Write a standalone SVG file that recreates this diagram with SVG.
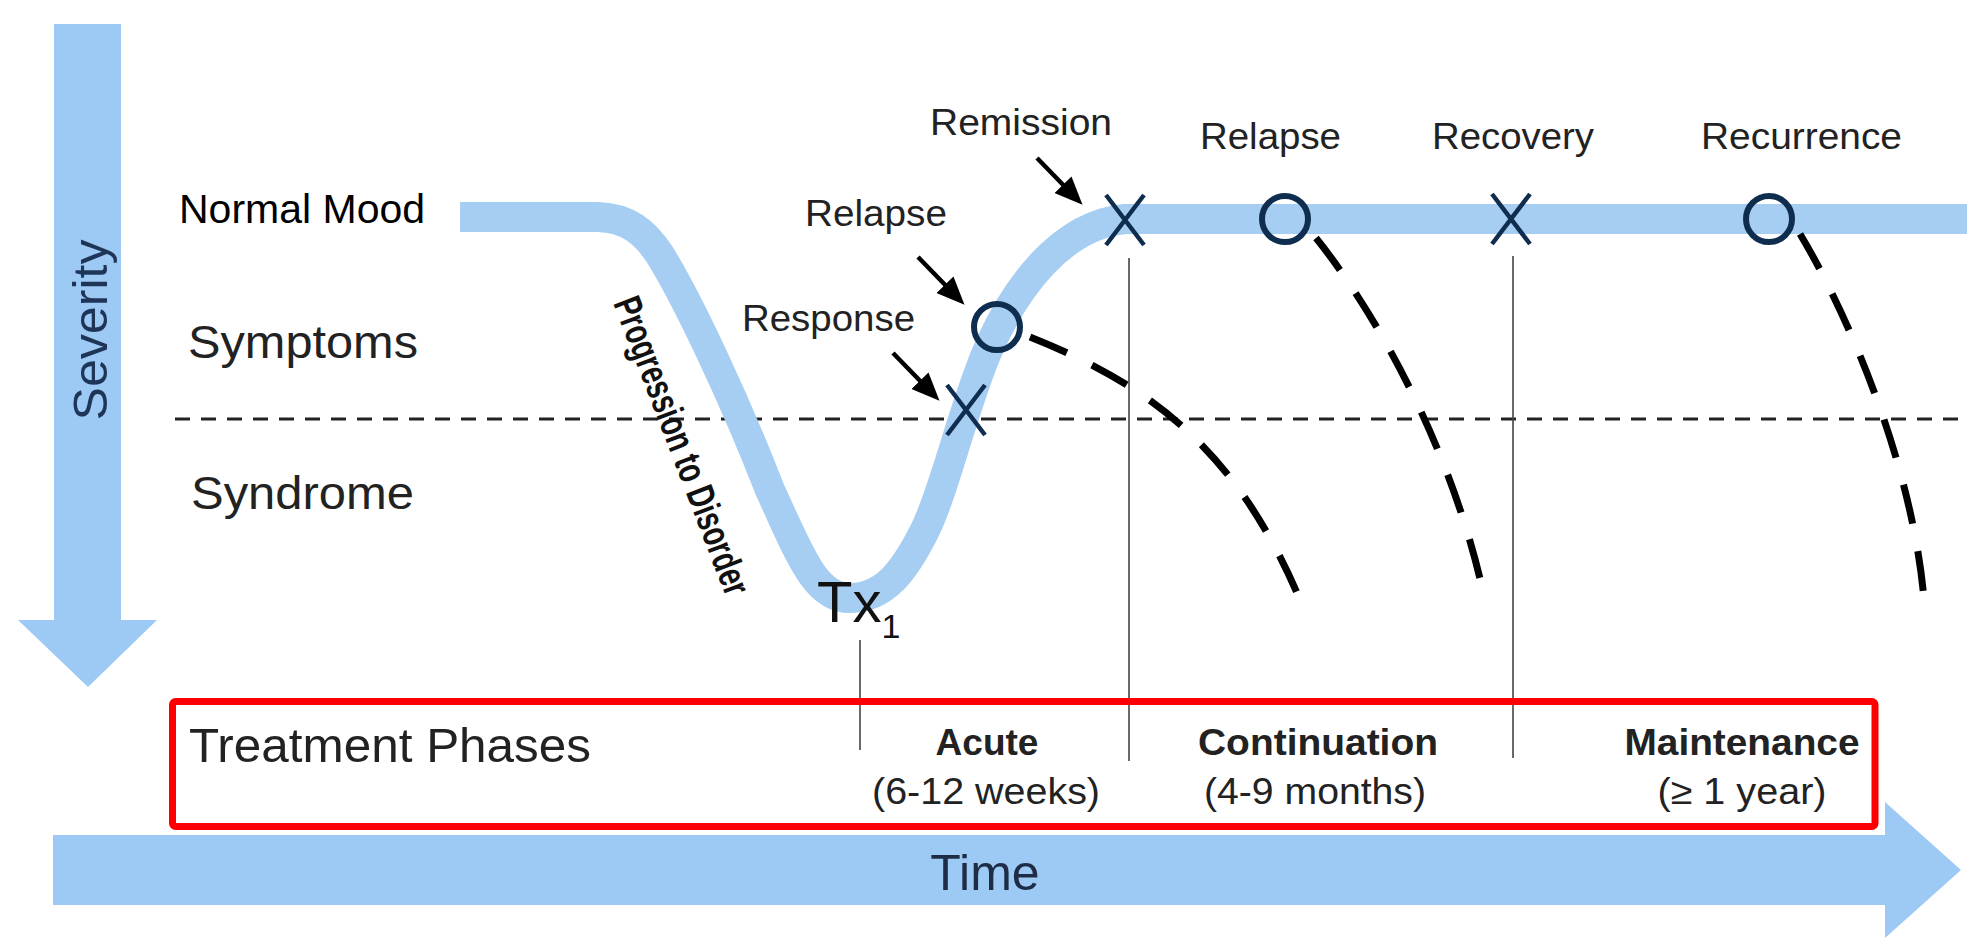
<svg xmlns="http://www.w3.org/2000/svg" width="1967" height="940" viewBox="0 0 1967 940">
<style>
.bg{fill:#ffffff}
.axis{fill:#9dcaf5}
.band{fill:none;stroke:#a6cdf2;stroke-width:30;stroke-linejoin:round}
.lbl{font-family:"Liberation Sans",Arial,sans-serif;fill:#222222}
.bold{font-weight:bold}
.mark{fill:none;stroke:#0f2d4f;stroke-width:6}
.x{fill:none;stroke:#0f2d4f;stroke-width:4.5}
.vline{stroke:#444444;stroke-width:1.6;fill:none}
.thr{stroke:#222222;stroke-width:3;stroke-dasharray:15 11;fill:none}
.relapse{fill:none;stroke:#000000;stroke-width:7;stroke-dasharray:40 28}
.ptr{stroke:#000000;stroke-width:4.5;fill:none}
.box{fill:none;stroke:#ff0000;stroke-width:7}
</style>
<defs>
<marker id="head" markerUnits="userSpaceOnUse" markerWidth="28" markerHeight="24" viewBox="0 0 26 22" refX="12" refY="11" orient="auto">
<path d="M0,0 L26,11 L0,22 z" fill="#000000"/>
</marker>
</defs>
<rect class="bg" x="0" y="0" width="1967" height="940"/>

<g id="severity-axis">
<polygon class="axis" points="54,24 121,24 121,620 157,620 88,687 18,620 54,620"/>
<text class="lbl" x="0" y="0" transform="translate(107,330) rotate(-90)" text-anchor="middle" font-size="48" textLength="181" lengthAdjust="spacingAndGlyphs" style="fill:#1e3557">Severity</text>
</g>

<g id="time-axis">
<polygon class="axis" points="53,835 1885,835 1885,802 1961,870 1885,938 1885,905 53,905"/>
<text class="lbl" x="985" y="890" text-anchor="middle" font-size="50" style="fill:#1e2d45">Time</text>
</g>

<g id="level-labels">
<text x="179" y="223" font-family="Liberation Sans, Arial, sans-serif" font-size="41" fill="#000000">Normal Mood</text>
<text class="lbl" x="188" y="358" font-size="46" textLength="230" lengthAdjust="spacingAndGlyphs">Symptoms</text>
<text class="lbl" x="191" y="509" font-size="46" textLength="223" lengthAdjust="spacingAndGlyphs">Syndrome</text>
</g>

<g id="threshold">
<line class="thr" x1="175" y1="419" x2="1967" y2="419"/>
</g>

<g id="phase-lines">
<line class="vline" x1="860" y1="640" x2="860" y2="750"/>
<line class="vline" x1="1129" y1="258" x2="1129" y2="761"/>
<line class="vline" x1="1513" y1="256" x2="1513" y2="758"/>
</g>

<g id="mood-course">
<path class="band" d="M 460 217 L 598 217 C 628 218, 645 232, 660 255 C 688 300, 735 400, 770 490 C 800 555, 815 598, 850 598 C 885 598, 905 570, 925 530 C 945 490, 965 400, 990 345 C 1015 290, 1060 225, 1125 219 L 1967 219"/>
</g>

<g id="progression-label">
<text class="lbl bold" x="0" y="0" transform="translate(613,303) rotate(69)" font-size="39" textLength="316" lengthAdjust="spacingAndGlyphs" style="fill:#111111">Progression to Disorder</text>
</g>

<g id="tx1">
<text class="lbl" x="817" y="622" font-size="58" style="fill:#111111">Tx<tspan font-size="34" dy="16">1</tspan></text>
</g>

<g id="connectors">
<path class="relapse" d="M 1030 337 C 1150 385, 1240 450, 1305 612"/>
<path class="relapse" d="M 1316 238 C 1370 305, 1450 440, 1484 596"/>
<path class="relapse" d="M 1800 234 C 1840 300, 1915 460, 1925 612"/>
<line class="ptr" x1="1037" y1="158" x2="1072" y2="194" marker-end="url(#head)"/>
<line class="ptr" x1="918" y1="257" x2="954" y2="294" marker-end="url(#head)"/>
<line class="ptr" x1="893" y1="353" x2="929" y2="390" marker-end="url(#head)"/>
</g>

<g id="response">
<path class="x" d="M 947 385 L 985 435 M 985 385 L 947 435"/>
<text class="lbl" x="742" y="331" font-size="36" textLength="173" lengthAdjust="spacingAndGlyphs">Response</text>
</g>
<g id="relapse-acute">
<circle class="mark" cx="997" cy="327" r="23"/>
<text class="lbl" x="805" y="226" font-size="36" textLength="142" lengthAdjust="spacingAndGlyphs">Relapse</text>
</g>
<g id="remission">
<path class="x" d="M 1106 195 L 1144 245 M 1144 195 L 1106 245"/>
<text class="lbl" x="930" y="135" font-size="36" textLength="182" lengthAdjust="spacingAndGlyphs">Remission</text>
</g>
<g id="relapse-continuation">
<circle class="mark" cx="1285" cy="219" r="23"/>
<text class="lbl" x="1200" y="149" font-size="36" textLength="141" lengthAdjust="spacingAndGlyphs">Relapse</text>
</g>
<g id="recovery">
<path class="x" d="M 1492 194 L 1530 244 M 1530 194 L 1492 244"/>
<text class="lbl" x="1432" y="149" font-size="36" textLength="162" lengthAdjust="spacingAndGlyphs">Recovery</text>
</g>
<g id="recurrence">
<circle class="mark" cx="1769" cy="219" r="23"/>
<text class="lbl" x="1701" y="149" font-size="36" textLength="201" lengthAdjust="spacingAndGlyphs">Recurrence</text>
</g>

<g id="treatment-phases">
<rect class="box" x="172.5" y="701.5" width="1702.5" height="125" rx="3"/>
<text class="lbl" x="189" y="762" font-size="48" textLength="402" lengthAdjust="spacingAndGlyphs">Treatment Phases</text>
<text class="lbl bold" x="987" y="755" text-anchor="middle" font-size="37">Acute</text>
<text class="lbl" x="986" y="804" text-anchor="middle" font-size="37" textLength="228" lengthAdjust="spacingAndGlyphs">(6-12 weeks)</text>
<text class="lbl bold" x="1318" y="755" text-anchor="middle" font-size="37" textLength="240" lengthAdjust="spacingAndGlyphs">Continuation</text>
<text class="lbl" x="1315" y="804" text-anchor="middle" font-size="37" textLength="222" lengthAdjust="spacingAndGlyphs">(4-9 months)</text>
<text class="lbl bold" x="1742" y="755" text-anchor="middle" font-size="37" textLength="235" lengthAdjust="spacingAndGlyphs">Maintenance</text>
<text class="lbl" x="1742" y="804" text-anchor="middle" font-size="37" textLength="169" lengthAdjust="spacingAndGlyphs">(≥ 1 year)</text>
</g>
</svg>
